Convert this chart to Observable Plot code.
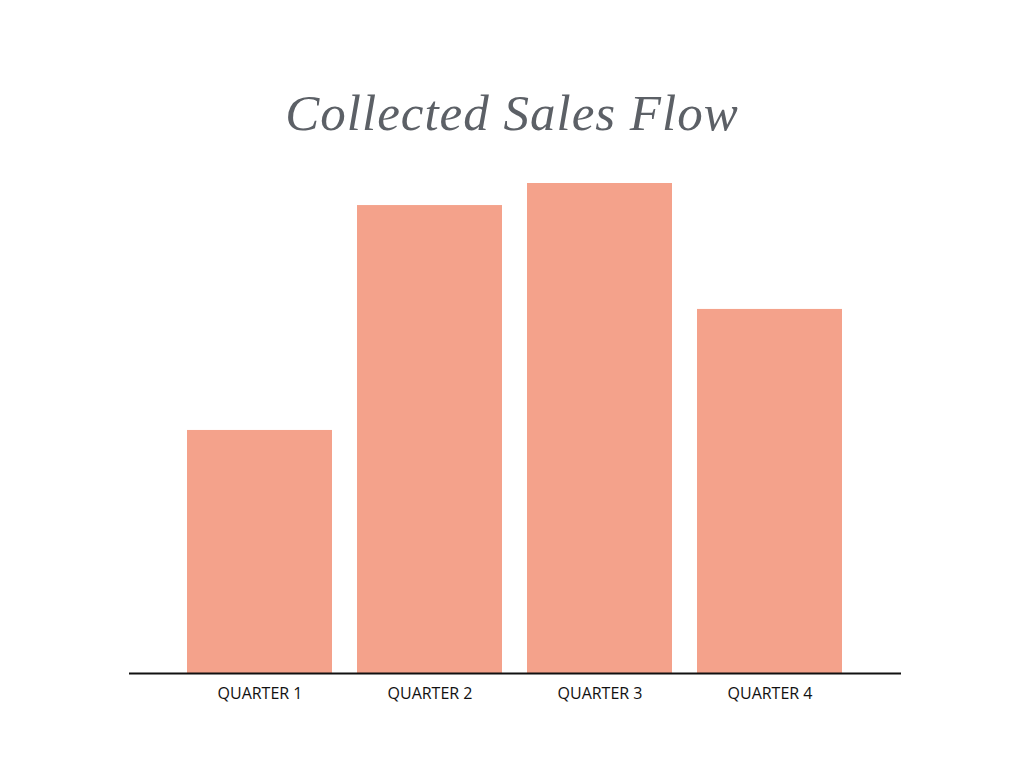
<!DOCTYPE html>
<html>
<head>
<meta charset="utf-8">
<script src="https://cdn.jsdelivr.net/npm/d3@7"></script>
<script src="https://cdn.jsdelivr.net/npm/@observablehq/plot@0.6"></script>
<style>
  html, body { margin: 0; padding: 0; background: #fff; }
  #wrap { position: relative; width: 1024px; height: 768px; overflow: hidden; }
  #title {
    position: absolute; left: 0; top: 84px; width: 1024px; text-align: center;
    font-family: "Liberation Serif", serif; font-style: italic; font-weight: 400;
    font-size: 51px; color: #5c6066; letter-spacing: 1px;
  }
  #chart { position: absolute; left: 0; top: 170px; }
</style>
</head>
<body>
<div id="wrap">
  <div id="title">Collected Sales Flow</div>
  <div id="chart"></div>
</div>
<script>
const categories = ["QUARTER 1", "QUARTER 2", "QUARTER 3", "QUARTER 4"];
const values = [49.6, 95.5, 100, 74.3];

const data = categories.map((c, i) => ({quarter: c, value: values[i]}));

const chart = Plot.plot({
  width: 1024,
  height: 598,
  marginLeft: 129,
  marginRight: 123,
  marginTop: 13,
  marginBottom: 95,
  style: {fontFamily: "'Open Sans', sans-serif", fontSize: "16px", color: "#111", background: "#fff"},
  x: {domain: categories, paddingInner: 0.147, paddingOuter: 0.344, label: null},
  y: {domain: [0, 100], axis: null},
  marks: [
    Plot.barY(data, {x: "quarter", y: "value", fill: "#f4a28b"}),
    Plot.ruleY([0], {stroke: "#111", strokeWidth: 2}),
    Plot.axisX({tickSize: 0, tickPadding: 14, fontSize: 16, fill: "#111", label: null})
  ]
});
document.getElementById("chart").appendChild(chart);
</script>
</body>
</html>
